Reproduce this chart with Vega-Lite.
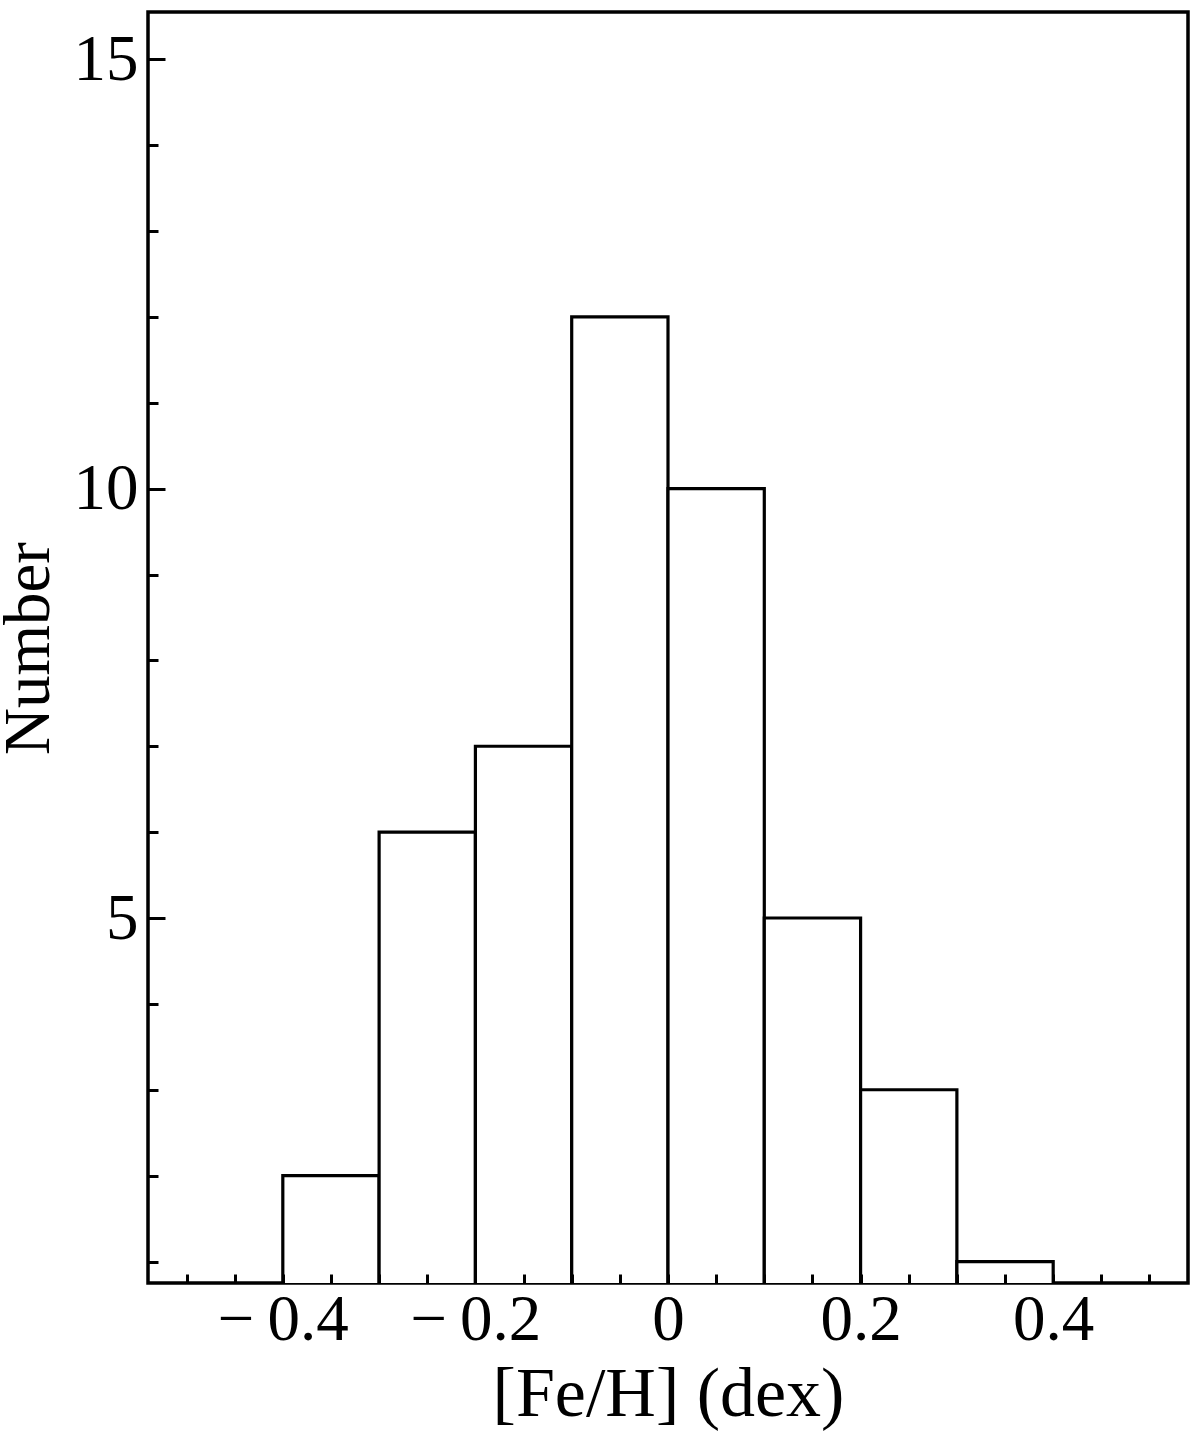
{
  "$schema": "https://vega.github.io/schema/vega-lite/v6.json",
  "width": 1040,
  "height": 1271,
  "autosize": {"type": "none"},
  "padding": {"left": 148, "top": 12, "right": 12, "bottom": 149},
  "background": "white",
  "config": {
    "view": {"stroke": "black", "strokeWidth": 3.5},
    "font": "Liberation Serif",
    "axis": {"grid": false, "domain": false, "tickColor": "black", "tickWidth": 3, "labelColor": "black", "titleColor": "black", "labelFont": "Liberation Serif", "titleFont": "Liberation Serif", "titleFontWeight": "normal"}
  },
  "data": {
    "values": [
      {"lo": -0.4, "hi": -0.3, "n": 2},
      {"lo": -0.3, "hi": -0.2, "n": 6},
      {"lo": -0.2, "hi": -0.1, "n": 7},
      {"lo": -0.1, "hi": 0.0, "n": 12},
      {"lo": 0.0, "hi": 0.1, "n": 10},
      {"lo": 0.1, "hi": 0.2, "n": 5},
      {"lo": 0.2, "hi": 0.3, "n": 3},
      {"lo": 0.3, "hi": 0.4, "n": 1}
    ]
  },
  "mark": {"type": "bar", "fill": "white", "stroke": "black", "strokeWidth": 3.2, "clip": true},
  "encoding": {
    "x": {
      "field": "lo",
      "type": "quantitative",
      "scale": {"domain": [-0.54, 0.54], "nice": false, "zero": false},
      "axis": {
        "zindex": 2,
        "title": "[Fe/H] (dex)",
        "titleFontSize": 70,
        "titleBaseline": "alphabetic",
        "titleX": 520,
        "titleY": 132,
        "values": [-0.5, -0.45, -0.4, -0.35, -0.3, -0.25, -0.2, -0.15, -0.1, -0.05, 0, 0.05, 0.1, 0.15, 0.2, 0.25, 0.3, 0.35, 0.4, 0.45, 0.5],
        "tickSize": -9,
        "labelFontSize": 65,
        "labelPadding": 14,
        "labelOverlap": false,
        "labelFlush": false,
        "labelExpr": "indexof([-40,-20,0,20,40], round(datum.value*100)) >= 0 ? (datum.value < -0.01 ? '−\u2009' + format(-datum.value, '.1f') : (abs(datum.value) < 0.01 ? '0' : format(datum.value, '.1f'))) : ''"
      }
    },
    "x2": {"field": "hi"},
    "y": {
      "field": "n",
      "type": "quantitative",
      "scale": {"domain": [0.75, 15.55], "nice": false, "zero": false},
      "axis": {
        "zindex": 2,
        "title": "Number",
        "titleFontSize": 65,
        "titleBaseline": "alphabetic",
        "titleX": -100,
        "titleY": 636,
        "values": [1, 2, 3, 4, 5, 6, 7, 8, 9, 10, 11, 12, 13, 14, 15],
        "tickSize": {"condition": {"test": "datum.value % 5 === 0", "value": -17}, "value": -10},
        "labelFontSize": 65,
        "labelPadding": 27,
        "labelOverlap": false,
        "labelFlush": false,
        "labelExpr": "datum.value % 5 === 0 ? '' + datum.value : ''"
      }
    },
    "y2": {"datum": 0}
  }
}
